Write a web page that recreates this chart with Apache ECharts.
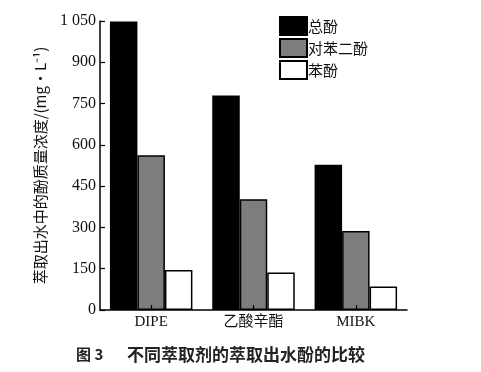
<!DOCTYPE html>
<html>
<head>
<meta charset="utf-8">
<script src="https://cdn.jsdelivr.net/npm/echarts@6/dist/echarts.min.js"></script>
<style>
  html, body { margin: 0; padding: 0; background: #fff; }
  #chart { width: 481px; height: 372px; }
</style>
</head>
<body>
<div id="chart"></div>
<script>
// 萃取剂
const solvents = ['DIPE', '乙酸辛酯', 'MIBK']
// 各酚浓度 mg/L
const totalPhenol = [1048, 779, 528]
const hydroquinone = [562, 402, 287]
const phenol = [145, 136, 85]
const yTicks = [0, 150, 300, 450, 600, 750, 900, 1050]

const serif = 'Liberation Serif, "Times New Roman", "Noto Sans CJK SC", serif'
const cjk = '"Noto Sans CJK SC", sans-serif'

const chart = echarts.init(document.getElementById('chart'))

const barStyle = (color) => ({
  color: color,
  borderColor: '#000',
  borderWidth: 1.5
})

chart.setOption({
  animation: false,
  backgroundColor: '#fff',
  title: {
    left: 71,
    top: 341,
    text: '{a|图 3}{b|不同萃取剂的萃取出水酚的比较}',
    textStyle: {
      rich: {
        a: { fontFamily: cjk, fontSize: 15, fontWeight: 'bold', color: '#222', width: 51 },
        b: { fontFamily: cjk, fontSize: 17, fontWeight: 'bold', color: '#222' }
      }
    }
  },
  legend: {
    orient: 'vertical',
    left: 274,
    top: 11,
    itemWidth: 27,
    itemHeight: 18,
    itemGap: 2,
    icon: 'rect',
    textStyle: { fontFamily: cjk, fontSize: 15, color: '#111' },
    formatter: (name) => '{t|' + name + '}',
    data: ['总酚', '对苯二酚', '苯酚']
  },
  grid: {
    left: 100,
    right: 74,
    top: 21,
    bottom: 62
  },
  xAxis: {
    type: 'category',
    data: solvents,
    z: 5,
    axisLine: { lineStyle: { color: '#000', width: 1.5 } },
    axisTick: { show: true, inside: true, alignWithLabel: true, length: 5, lineStyle: { color: '#000', width: 1.2 } },
    axisLabel: { fontFamily: serif, fontSize: 15, color: '#111', margin: 5 }
  },
  yAxis: {
    type: 'value',
    min: yTicks[0],
    max: yTicks[yTicks.length - 1],
    interval: yTicks[1] - yTicks[0],
    name: '萃取出水中的酚质量浓度/(mg·L⁻¹)',
    nameLocation: 'middle',
    nameGap: 52,
    nameRotate: 90,
    nameTextStyle: { fontFamily: cjk, fontSize: 15, color: '#111' },
    axisLine: { show: true, lineStyle: { color: '#000', width: 1.5 } },
    axisTick: { show: true, inside: true, length: 5, lineStyle: { color: '#000', width: 1.2 } },
    axisLabel: {
      fontFamily: serif,
      fontSize: 16,
      color: '#111',
      margin: 4,
      formatter: (v) => v >= 1000 ? Math.floor(v / 1000) + ' ' + String(v % 1000).padStart(3, '0') : String(v)
    },
    splitLine: { show: false }
  },
  series: [
    { name: '总酚', type: 'bar', data: totalPhenol, barWidth: 27.5, barGap: '0%', itemStyle: barStyle('#000') },
    { name: '对苯二酚', type: 'bar', data: hydroquinone, barWidth: 27.5, barGap: '0%', itemStyle: barStyle('#7d7d7d') },
    { name: '苯酚', type: 'bar', data: phenol, barWidth: 27.5, barGap: '0%', itemStyle: barStyle('#fff') }
  ]
})

// 图例文字贴近色块
chart.setOption({
  legend: {
    textStyle: {
      rich: { t: { fontFamily: cjk, fontSize: 15, color: '#111', padding: [0, 0, 0, -4] } }
    }
  }
})
</script>
</body>
</html>
